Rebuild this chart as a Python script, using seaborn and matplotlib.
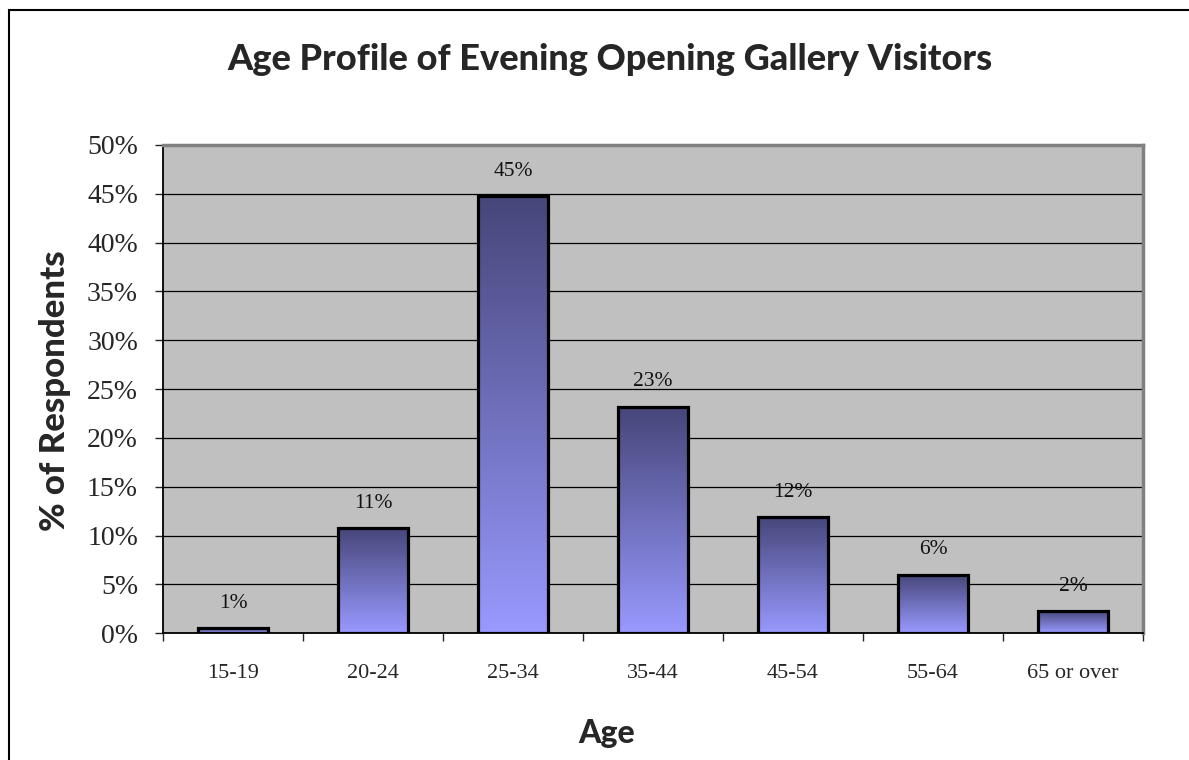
import numpy as np
import pandas as pd
import seaborn as sns
import matplotlib.pyplot as plt
from matplotlib.patches import Rectangle
from matplotlib.colors import LinearSegmentedColormap

# age bands and share of respondents (%)
ages = ['15-19', '20-24', '25-34', '35-44', '45-54', '55-64', '65 or over']
share = [0.5, 10.8, 44.8, 23.2, 11.9, 6.0, 2.3]
bar_labels = ['1%', '11%', '45%', '23%', '12%', '6%', '2%']
y_ticks = [0, 5, 10, 15, 20, 25, 30, 35, 40, 45, 50]

df = pd.DataFrame({'age': ages, 'share': share})

sns.set_style('white')
serif = 'Liberation Serif'
sans = 'Lato'

W, H = 1189, 760
fig = plt.figure(figsize=(W / 100, H / 100), dpi=100)
ax = fig.add_axes([163 / W, 1 - 633.3 / H, (1143 - 163) / W, (633.3 - 145) / H])
ax.set_facecolor('#c0c0c0')

sns.barplot(data=df, x='age', y='share', ax=ax, width=0.5, color='#9999ff',
            edgecolor='black', linewidth=2.3, zorder=3)

# vertical gradient inside each bar: dark at top, light at bottom
cmap = LinearSegmentedColormap.from_list('bar', ['#9999ff', '#46467a'])
grad = np.linspace(0, 1, 256).reshape(-1, 1)
for p in ax.patches:
    x0, w, h = p.get_x(), p.get_width(), p.get_height()
    ax.imshow(grad, extent=[x0, x0 + w, 0, h], origin='lower', cmap=cmap,
              aspect='auto', zorder=2.5, interpolation='bilinear')
    p.set_facecolor('none')

for i, (v, lab) in enumerate(zip(share, bar_labels)):
    ax.annotate(lab, (i, v), xytext=(0, 11), textcoords='offset points',
                ha='center', va='bottom', fontsize=15.5, family=serif, color='#111111')

ax.set_xlim(-0.5, 6.5)
ax.set_ylim(0, 50)
ax.set_axisbelow(True)
ax.yaxis.grid(True, color='black', lw=0.9)
ax.xaxis.grid(False)

ax.set_yticks(y_ticks)
ax.set_yticklabels([f'{t}%' for t in y_ticks], family=serif, fontsize=20)
ax.tick_params(axis='y', direction='out', length=6, width=1, pad=12, left=True)

ax.set_xticks(range(len(ages)))
ax.set_xticklabels(ages, family=serif, fontsize=16)
ax.set_xticks(np.arange(-0.5, len(ages), 1), minor=True)
ax.tick_params(axis='x', which='major', length=0, pad=22)
ax.tick_params(axis='x', which='minor', direction='out', length=6, width=1, bottom=True)

for s in ['left', 'bottom']:
    ax.spines[s].set_color('black')
    ax.spines[s].set_linewidth(1.3)
for s in ['top', 'right']:
    ax.spines[s].set_color('#808080')
    ax.spines[s].set_linewidth(2.5)

ax.set_xlabel('')
ax.set_ylabel('')

fig.text(610 / W, 1 - 60 / H, 'Age Profile of Evening Opening Gallery Visitors',
         ha='center', va='center', fontsize=26, weight='black', family=sans)
fig.text(55 / W, 1 - 391 / H, '% of Respondents', rotation=90,
         ha='center', va='center', fontsize=25, weight='black', family=sans)
fig.text(607 / W, 1 - 733 / H, 'Age', ha='center', va='center',
         fontsize=23, weight='black', family=sans)

# outer chart frame (runs off the right and bottom edges)
fig.patches.append(Rectangle((9 / W, -0.1), 1.2, 1.1 - 10 / H, transform=fig.transFigure,
                             fill=False, edgecolor='black', lw=1.5, clip_on=False))

fig.savefig('out.png', dpi=100)
